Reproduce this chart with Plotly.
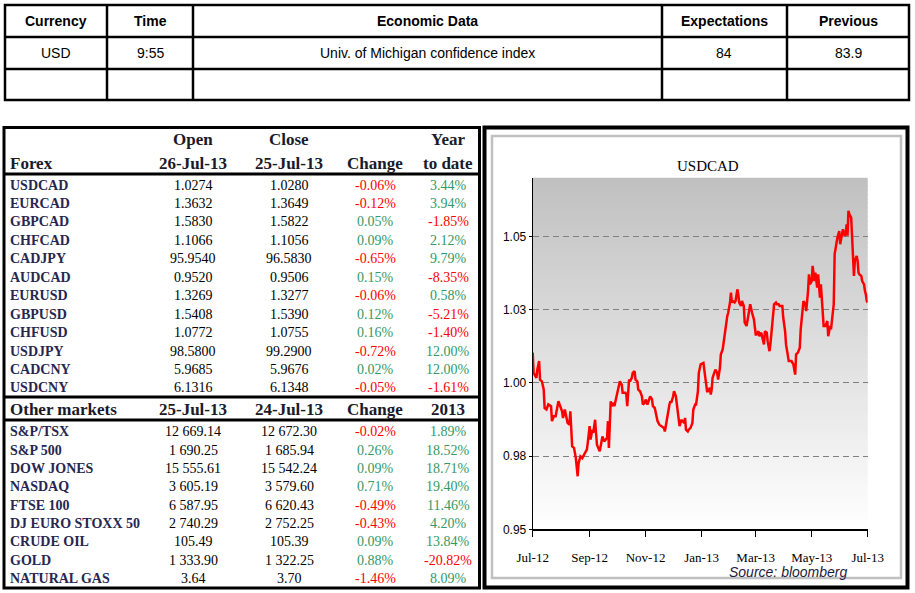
import plotly.graph_objects as go
from datetime import date, timedelta

W, H = 915, 593

# ---------------- data ----------------
top_headers = ["Currency", "Time", "Economic Data", "Expectations", "Previous"]
top_row = ["USD", "9:55", "Univ. of Michigan confidence index", "84", "83.9"]

forex_header_1 = ["", "Open", "Close", "", "Year"]
forex_header_2 = ["Forex", "26-Jul-13", "25-Jul-13", "Change", "to date"]
forex_names = ["USDCAD", "EURCAD", "GBPCAD", "CHFCAD", "CADJPY", "AUDCAD",
               "EURUSD", "GBPUSD", "CHFUSD", "USDJPY", "CADCNY", "USDCNY"]
forex_open = ["1.0274", "1.3632", "1.5830", "1.1066", "95.9540", "0.9520",
              "1.3269", "1.5408", "1.0772", "98.5800", "5.9685", "6.1316"]
forex_close = ["1.0280", "1.3649", "1.5822", "1.1056", "96.5830", "0.9506",
               "1.3277", "1.5390", "1.0755", "99.2900", "5.9676", "6.1348"]
forex_change = ["-0.06%", "-0.12%", "0.05%", "0.09%", "-0.65%", "0.15%",
                "-0.06%", "0.12%", "0.16%", "-0.72%", "0.02%", "-0.05%"]
forex_ytd = ["3.44%", "3.94%", "-1.85%", "2.12%", "9.79%", "-8.35%",
             "0.58%", "-5.21%", "-1.40%", "12.00%", "12.00%", "-1.61%"]

other_header = ["Other markets", "25-Jul-13", "24-Jul-13", "Change", "2013"]
other_names = ["S&P/TSX", "S&P 500", "DOW JONES", "NASDAQ", "FTSE 100",
               "DJ EURO STOXX 50", "CRUDE OIL", "GOLD", "NATURAL GAS"]
other_last = ["12 669.14", "1 690.25", "15 555.61", "3 605.19", "6 587.95",
              "2 740.29", "105.49", "1 333.90", "3.64"]
other_prev = ["12 672.30", "1 685.94", "15 542.24", "3 579.60", "6 620.43",
              "2 752.25", "105.39", "1 322.25", "3.70"]
other_change = ["-0.02%", "0.26%", "0.09%", "0.71%", "-0.49%", "-0.43%",
                "0.09%", "0.88%", "-1.46%"]
other_ytd = ["1.89%", "18.52%", "18.71%", "19.40%", "11.46%", "4.20%",
             "13.84%", "-20.82%", "8.09%"]

chart_title = "USDCAD"
source_text = "Source: bloomberg"
start_date = "2012-07-26"
day_offsets = [
    0, 1, 4, 5, 7, 8, 10, 12, 13, 15, 17, 20, 21, 23, 25, 28, 30, 32, 33, 35,
    38, 40, 41, 42, 43, 45, 47, 49, 50, 52, 54, 57, 59, 60, 62, 63, 65, 66, 68, 69,
    70, 73, 75, 76, 78, 80, 81, 82, 83, 85, 86, 88, 89, 91, 93, 95, 97, 98, 101, 102,
    103, 105, 106, 108, 109, 111, 112, 114, 115, 117, 119, 120, 122, 123, 125, 126, 128, 130, 131, 133,
    135, 136, 138, 141, 143, 144, 146, 147, 149, 150, 151, 153, 154, 156, 157, 159, 160, 162, 163, 165,
    166, 167, 169, 170, 172, 174, 175, 177, 178, 180, 181, 183, 186, 187, 188, 190, 191, 193, 194, 195,
    196, 198, 199, 201, 202, 204, 205, 207, 209, 210, 212, 213, 215, 216, 217, 218, 220, 221, 223, 224,
    225, 227, 228, 230, 231, 233, 234, 236, 237, 239, 240, 241, 243, 244, 246, 247, 249, 250, 252, 253,
    255, 256, 258, 259, 260, 262, 263, 265, 266, 268, 269, 271, 272, 273, 275, 276, 278, 279, 282, 284,
    286, 287, 289, 291, 292, 294, 295, 297, 298, 300, 301, 302, 304, 305, 307, 308, 310, 311, 313, 314,
    316, 317, 319, 321, 322, 324, 325, 326, 328, 329, 331, 332, 334, 335, 337, 338, 340, 341, 342, 343,
    344, 345, 347, 348, 350, 351, 353, 354, 355, 356, 358, 359, 361, 362, 363, 364, 365]
usdcad = [
    1.0103, 1.0034, 1.0017, 1.0045, 1.0074, 1.0011, 1.0005, 0.9977, 0.9914, 0.9909,
    0.9926, 0.9920, 0.9869, 0.9886, 0.9886, 0.9937, 0.9920, 0.9903, 0.9880, 0.9909,
    0.9863, 0.9857, 0.9903, 0.9857, 0.9783, 0.9778, 0.9743, 0.9681, 0.9726, 0.9749,
    0.9743, 0.9761, 0.9772, 0.9795, 0.9852, 0.9806, 0.9840, 0.9829, 0.9874, 0.9829,
    0.9789, 0.9766, 0.9795, 0.9817, 0.9800, 0.9806, 0.9812, 0.9869, 0.9778, 0.9937,
    0.9920, 0.9932, 0.9920, 0.9949, 0.9983, 1.0005, 0.9994, 0.9966, 0.9966, 0.9960,
    0.9920, 1.0011, 1.0005, 1.0017, 1.0034, 1.0040, 1.0011, 1.0005, 0.9977, 0.9971,
    0.9954, 0.9926, 0.9932, 0.9943, 0.9926, 0.9937, 0.9954, 0.9943, 0.9920, 0.9914,
    0.9886, 0.9869, 0.9857, 0.9852, 0.9846, 0.9834, 0.9874, 0.9880, 0.9926, 0.9937,
    0.9932, 0.9954, 0.9971, 0.9954, 0.9926, 0.9886, 0.9852, 0.9874, 0.9869, 0.9863,
    0.9880, 0.9840, 0.9834, 0.9840, 0.9846, 0.9863, 0.9909, 0.9926, 0.9926, 0.9971,
    1.0034, 1.0063, 1.0068, 1.0045, 1.0005, 0.9971, 0.9971, 0.9983, 0.9960, 0.9977,
    1.0017, 1.0040, 1.0045, 1.0034, 1.0011, 1.0051, 1.0097, 1.0114, 1.0159, 1.0199,
    1.0228, 1.0239, 1.0274, 1.0308, 1.0274, 1.0279, 1.0274, 1.0279, 1.0319, 1.0302,
    1.0274, 1.0262, 1.0279, 1.0262, 1.0205, 1.0194, 1.0217, 1.0251, 1.0268, 1.0239,
    1.0228, 1.0217, 1.0165, 1.0165, 1.0176, 1.0159, 1.0171, 1.0159, 1.0131, 1.0176,
    1.0171, 1.0142, 1.0108, 1.0131, 1.0165, 1.0251, 1.0268, 1.0274, 1.0268, 1.0268,
    1.0262, 1.0262, 1.0262, 1.0222, 1.0176, 1.0131, 1.0097, 1.0074, 1.0074, 1.0063,
    1.0028, 1.0097, 1.0103, 1.0120, 1.0182, 1.0234, 1.0279, 1.0268, 1.0245, 1.0313,
    1.0370, 1.0336, 1.0347, 1.0399, 1.0347, 1.0376, 1.0325, 1.0370, 1.0291, 1.0336,
    1.0211, 1.0194, 1.0194, 1.0211, 1.0159, 1.0194, 1.0182, 1.0211, 1.0268, 1.0439,
    1.0479, 1.0496, 1.0518, 1.0473, 1.0507, 1.0524, 1.0502, 1.0507, 1.0541, 1.0502,
    1.0587, 1.0576, 1.0564, 1.0496, 1.0365, 1.0416, 1.0433, 1.0416, 1.0376, 1.0370,
    1.0365, 1.0347, 1.0336, 1.0313, 1.0302, 1.0279, 1.0274]
x_tick_dates = ["2012-07-26", "2012-09-26", "2012-11-26", "2013-01-26",
                "2013-03-26", "2013-05-26", "2013-07-26"]
x_tick_labels = ["Jul-12", "Sep-12", "Nov-12", "Jan-13", "Mar-13", "May-13", "Jul-13"]
y_tick_vals = [0.95, 0.975, 1.0, 1.025, 1.05]
y_tick_labels = ["0.95", "0.98", "1.00", "1.03", "1.05"]
y_range = [0.95, 1.07]

# ---------------- helpers ----------------
def X(px):
    return px / W

def Y(py):
    return 1 - py / H

shapes = []
annotations = []

def hline(x0, x1, y, w=2, color="black"):
    shapes.append(dict(type="line", xref="paper", yref="paper", x0=X(x0), x1=X(x1),
                       y0=Y(y), y1=Y(y), line=dict(color=color, width=w)))

def vline(x, y0, y1, w=2, color="black"):
    shapes.append(dict(type="line", xref="paper", yref="paper", x0=X(x), x1=X(x),
                       y0=Y(y0), y1=Y(y1), line=dict(color=color, width=w)))

def rect(x0, y0, x1, y1, w=2, color="black"):
    shapes.append(dict(type="rect", xref="paper", yref="paper", x0=X(x0), x1=X(x1),
                       y0=Y(y0), y1=Y(y1), line=dict(color=color, width=w)))

def text(s, x, y, anchor="center", size=14, color="black", family="Liberation Sans", bold=False):
    if bold and s:
        s = "<b>" + s + "</b>"
    annotations.append(dict(text=s, x=X(x), y=Y(y), xref="paper", yref="paper",
                            xanchor=anchor, yanchor="middle", showarrow=False,
                            font=dict(size=size, color=color, family=family)))

SANS = "Liberation Sans, Arial, sans-serif"
SERIF = "Liberation Serif, Times New Roman, serif"
NAVY = "#262650"
GREEN = "#339966"
RED = "#ff0000"

# ---------------- top table ----------------
rect(5, 5, 909, 100, w=2.5)
hline(5, 909, 37, w=2.5)
hline(5, 909, 69, w=2.5)
for cx in [107, 193, 662, 787]:
    vline(cx, 5, 100, w=2.5)
top_centers = [56, 150, 427, 724, 848]
for c, h, v in zip(top_centers, top_headers, top_row):
    text(h, c, 21, size=14, family=SANS, bold=True)
    text(v, c, 53, size=14, family=SANS)

# ---------------- left table ----------------
rect(4, 127.5, 479.5, 588, w=3)
hline(4, 479.5, 174, w=3)
hline(4, 479.5, 397, w=3)
hline(4, 479.5, 420, w=3)
col_centers = [193, 289, 375, 448]
NAME_X = 8
HDR = "#1a1a2a"
HSIZE = 17
for c, h in zip(col_centers, forex_header_1[1:]):
    if h:
        text(h, c, 140, size=HSIZE, family=SERIF, color=HDR, bold=True)
text(forex_header_2[0], NAME_X, 163, anchor="left", size=HSIZE, family=SERIF, color=HDR, bold=True)
for c, h in zip(col_centers, forex_header_2[1:]):
    text(h, c, 163, size=HSIZE, family=SERIF, color=HDR, bold=True)

def pct_color(s):
    return RED if s.startswith("-") else GREEN

for i, name in enumerate(forex_names):
    yy = 185 + i * 18.45
    text(name, NAME_X, yy, anchor="left", size=14, family=SERIF, color=NAVY, bold=True)
    text(forex_open[i], col_centers[0], yy, size=14, family=SERIF)
    text(forex_close[i], col_centers[1], yy, size=14, family=SERIF)
    text(forex_change[i], col_centers[2], yy, size=14, family=SERIF, color=pct_color(forex_change[i]))
    text(forex_ytd[i], col_centers[3], yy, size=14, family=SERIF, color=pct_color(forex_ytd[i]))

text(other_header[0], NAME_X, 409, anchor="left", size=HSIZE, family=SERIF, color=HDR, bold=True)
for c, h in zip(col_centers, other_header[1:]):
    text(h, c, 409, size=HSIZE, family=SERIF, color=HDR, bold=True)
for i, name in enumerate(other_names):
    yy = 431.7 + i * 18.33
    text(name, NAME_X, yy, anchor="left", size=14, family=SERIF, color=NAVY, bold=True)
    text(other_last[i], col_centers[0], yy, size=14, family=SERIF)
    text(other_prev[i], col_centers[1], yy, size=14, family=SERIF)
    text(other_change[i], col_centers[2], yy, size=14, family=SERIF, color=pct_color(other_change[i]))
    text(other_ytd[i], col_centers[3], yy, size=14, family=SERIF, color=pct_color(other_ytd[i]))

# ---------------- right panel frame ----------------
rect(484.5, 127.5, 907.5, 587.5, w=4)
rect(492, 136, 901, 578, w=2.5, color="#c0c0c0")
text(chart_title, 708, 166, size=15, family=SERIF)
text("<i>" + source_text + "</i>", 788, 572, size=14, family=SANS, color="#1c1c3c")

# plot background gradient (grey at top to white at bottom)
NB = 80
for i in range(NB):
    g = int(round(255 - 63 * (i + 0.5) / NB))
    shapes.append(dict(type="rect", xref="x domain", yref="y domain",
                       x0=0, x1=1, y0=i / NB, y1=min(1, (i + 1) / NB + 0.004),
                       fillcolor=f"rgb({g},{g},{g})", line=dict(width=0), layer="below"))

# ---------------- chart ----------------
d0 = date.fromisoformat(start_date)
dates = [(d0 + timedelta(days=d)).isoformat() for d in day_offsets]

fig = go.Figure()
fig.add_trace(go.Scatter(x=dates, y=usdcad, mode="lines",
                         line=dict(color="#ff0000", width=2.5), cliponaxis=False,
                         hoverinfo="skip", showlegend=False))

fig.update_layout(
    width=W, height=H, margin=dict(l=0, r=0, t=0, b=0, pad=0, autoexpand=False),
    paper_bgcolor="white", plot_bgcolor="rgba(0,0,0,0)",
    showlegend=False, shapes=shapes, annotations=annotations,
    xaxis=dict(domain=[X(532.7), X(867.7)], type="date", automargin=False,
               range=[x_tick_dates[0], x_tick_dates[-1]],
               tickmode="array", tickvals=x_tick_dates, ticktext=x_tick_labels,
               ticks="outside", ticklen=6, tickcolor="black", tickwidth=1,
               showline=True, linecolor="black", linewidth=1.5,
               showgrid=False, zeroline=False, ticklabelstandoff=10,
               tickfont=dict(family=SERIF, size=13, color="black"), fixedrange=True),
    yaxis=dict(domain=[Y(529.3), Y(177.7)], range=y_range, automargin=False,
               tickmode="array", tickvals=y_tick_vals, ticktext=y_tick_labels,
               ticks="outside", ticklen=3, tickcolor="black",
               showline=True, linecolor="black", linewidth=1,
               showgrid=True, gridcolor="#808080", gridwidth=1, griddash="6px,4px",
               zeroline=False,
               tickfont=dict(family="Liberation Sans Narrow, Arial Narrow, Liberation Sans, sans-serif",
                             size=12, color="black"), fixedrange=True),
)

fig.write_html("out.html", config={"displayModeBar": False, "staticPlot": True},
               post_script="document.body.style.margin='0';document.body.style.padding='0';"
                           "document.documentElement.style.overflow='hidden';")
